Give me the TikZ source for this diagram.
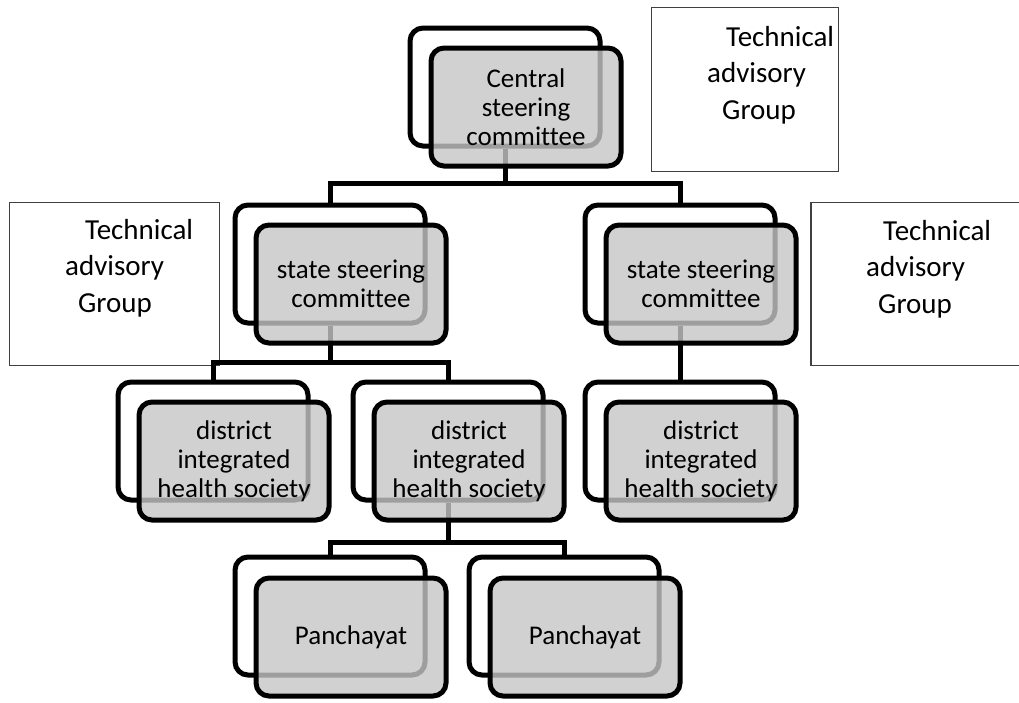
\documentclass[tikz,border=0pt]{standalone}
\usepackage{fontspec}
\setmainfont[Ligatures=NoCommon]{Carlito}
\definecolor{boxgray}{gray}{0.776}
\begin{document}
\begin{tikzpicture}[x=1pt,y=-1pt,
  backbox/.style={draw, line width=5pt, rounded corners=13pt,
    minimum width=190pt, minimum height=118pt, inner sep=0pt},
  frontbox/.style={backbox, fill=boxgray, fill opacity=0.8, text opacity=1,
    align=center, font=\fontsize{27}{29}\selectfont},
  link/.style={line width=5pt},
  advbox/.style={draw=black!75, line width=1.3pt, inner sep=0pt},
  advtext/.style={align=left, inner sep=0pt, anchor=base west,
    font=\fontsize{29}{36.5}\selectfont}]
\useasboundingbox (0,0) rectangle (1019,702);
\clip (0,0) rectangle (1019,702);

% outlined frames behind each unit
\node[backbox] (cscB) at (505,87) {};
\node[backbox] (sslB) at (330,264) {};
\node[backbox] (ssrB) at (680,264) {};
\node[backbox] (dilB) at (213,441) {};
\node[backbox] (dimB) at (448,441) {};
\node[backbox] (dirB) at (680,441) {};
\node[backbox] (palB) at (330,616) {};
\node[backbox] (parB) at (564,616) {};

% advisory groups (anchored on the baseline of the last line)
\node[advbox, minimum width=187pt, minimum height=164pt] (tagT) at (745,89.5) {};
\node[advbox, minimum width=210pt, minimum height=163pt] (tagL) at (114.5,284) {};
\node[advbox, minimum width=230pt, minimum height=163pt] (tagR) at (926,284) {};
\node[advtext] (tagTt) at (707,119) {\hspace*{19pt}Technical\\advisory\\\hspace*{15pt}Group};
\node[advtext] (tagLt) at (65,312) {\hspace*{20pt}Technical\\advisory\\\hspace*{13pt}Group};
\node[advtext] (tagRt) at (866,313) {\hspace*{17pt}Technical\\advisory\\\hspace*{12pt}Group};

% hierarchy connectors
\coordinate (j0) at (505,183);
\coordinate (j1) at (330,362);
\coordinate (j2) at (448,542);
\draw[link] (cscB.south) -- (j0);
\draw[link] (j0) -| (sslB.north);
\draw[link] (j0) -| (ssrB.north);
\draw[link] (sslB.south) -- (j1);
\draw[link] (j1) -| (dilB.north);
\draw[link] (j1) -| (dimB.north);
\draw[link] (ssrB.south) -- (dirB.north);
\draw[link] (dimB.south) -- (j2);
\draw[link] (j2) -| (palB.north);
\draw[link] (j2) -| (parB.north);

% shaded front panels with labels
\node[frontbox] (csc) at (526,107) {Central\\steering\\committee};
\node[frontbox] (ssl) at (351,284) {state steering\\committee};
\node[frontbox] (ssr) at (701,284) {state steering\\committee};
\node[frontbox] (dil) at (234,461) {district\\integrated\\health society};
\node[frontbox] (dim) at (469,461) {district\\integrated\\health society};
\node[frontbox] (dir) at (701,461) {district\\integrated\\health society};
\node[frontbox] (pal) at (351,637) {Panchayat};
\node[frontbox] (par) at (585,637) {Panchayat};
\end{tikzpicture}
\end{document}
